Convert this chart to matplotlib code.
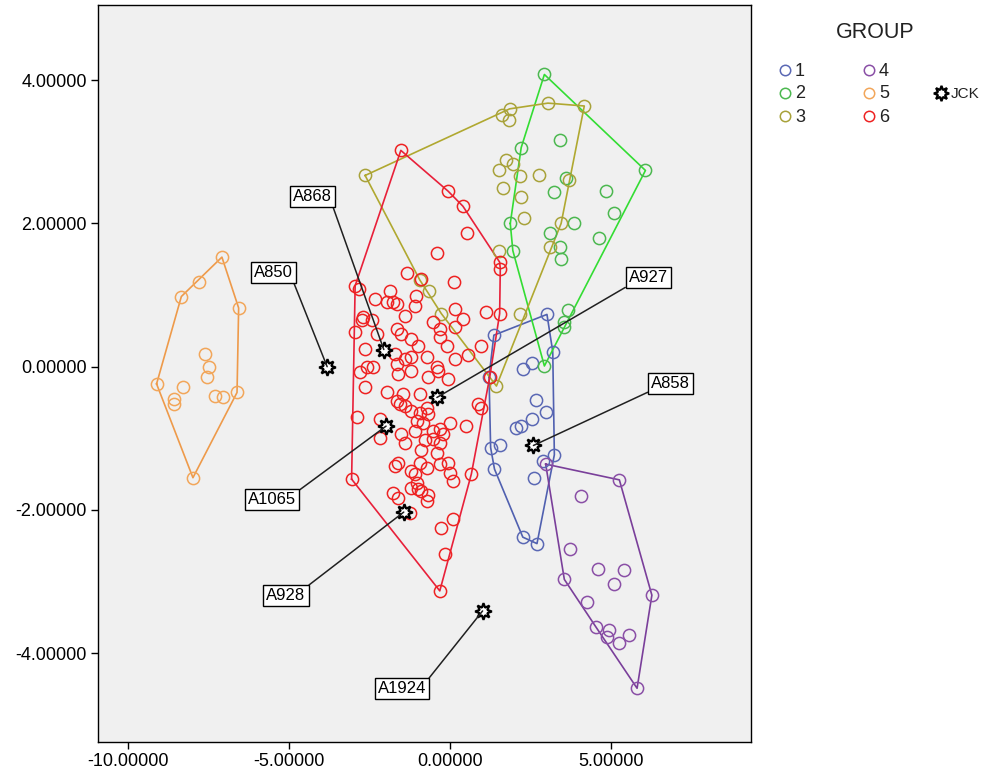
import numpy as np
import matplotlib
matplotlib.use("Agg")
import matplotlib.pyplot as plt

plt.rcParams['font.family'] = ['Liberation Sans', 'DejaVu Sans']

# ---------------- data ----------------
g1_x = [3.02, 1.37, 3.20, 2.27, 2.56, 2.69, 2.98, 2.56, 2.22, 2.05, 1.27, 1.57, 1.39, 3.25, 2.63, 2.89, 2.27, 2.71, 1.22]
g1_y = [0.73, 0.44, 0.21, -0.03, 0.05, -0.47, -0.63, -0.73, -0.83, -0.85, -1.13, -1.10, -1.43, -1.23, -1.56, -1.31, -2.38, -2.47, -0.14]

g2_x = [2.94, 2.22, 3.43, 6.08, 3.23, 4.84, 5.11, 1.88, 3.12, 3.87, 4.65, 1.96, 3.41, 3.46, 3.67, 3.56, 3.56, 2.94, 3.62]
g2_y = [4.08, 3.06, 3.17, 2.74, 2.44, 2.45, 2.14, 2.00, 1.86, 2.00, 1.80, 1.62, 1.67, 1.51, 0.79, 0.55, 0.62, 0.01, 2.64]

g3_x = [1.86, 1.62, 1.84, 3.05, 4.18, 1.74, 1.53, 1.98, 2.19, 2.77, 1.65, 2.22, 3.72, 2.30, 3.46, 3.12, 1.53, 2.17, 1.45, -2.63, -0.93, -0.64, -0.26]
g3_y = [3.60, 3.51, 3.45, 3.68, 3.64, 2.88, 2.74, 2.83, 2.66, 2.67, 2.49, 2.37, 2.61, 2.07, 2.00, 1.67, 1.62, 0.74, -0.27, 2.67, 1.21, 1.05, 0.74]

g4_x = [2.98, 5.27, 4.08, 3.74, 3.56, 4.60, 5.40, 5.11, 4.27, 6.28, 4.55, 4.96, 4.88, 5.58, 5.25, 5.82]
g4_y = [-1.36, -1.58, -1.80, -2.54, -2.97, -2.82, -2.84, -3.04, -3.28, -3.19, -3.64, -3.67, -3.78, -3.74, -3.86, -4.49]

g5_x = [-7.08, -7.78, -8.34, -6.56, -7.59, -7.47, -7.54, -9.11, -8.30, -8.58, -8.58, -7.28, -7.05, -6.61, -7.98]
g5_y = [1.53, 1.18, 0.98, 0.82, 0.18, 0.00, -0.14, -0.24, -0.28, -0.45, -0.52, -0.41, -0.42, -0.36, -1.55]

g6_x = [-1.52, -0.05, 0.41, 0.54, -0.41, 1.55, 1.57, -1.34, 0.12, -2.94, -2.81, -1.86, -2.32, -1.96, -1.76,
        -1.65, -1.05, -1.08, 0.15, 1.14, 1.55, -1.39, -2.69, -0.90, 0.41, -2.74, -2.43, -0.52, -1.65, -1.50,
        -0.31, 0.15, -2.94, -2.27, -1.19, -0.98, -0.31, -0.10, 0.98, -2.63, -1.70, -1.39, -1.19, -0.72, 0.15,
        0.57, -1.65, -0.41, -0.36, -2.58, -2.38, -1.19, -2.79, -0.05, -0.67, -1.60, -2.63, -1.96, -1.45, -0.93,
        1.24, -1.55, -1.39, -1.65, -1.19, -0.93, -0.67, -0.72, 0.88, 0.98, -2.89, -2.17, -1.03, -0.83, 0.00,
        0.52, -1.50, -1.39, -1.08, -0.52, -0.31, -0.21, -2.17, -0.77, -0.52, -0.31, -0.88, -0.41, -1.60, -1.70,
        -0.93, -0.72, -0.31, -0.05, -1.19, -1.08, 0.00, 0.67, 0.10, -3.05, -1.03, -1.19, -0.98, -0.88, -0.67,
        -1.76, -1.60, -0.72, -1.24, 0.10, -0.26, -0.15, -0.31]
g6_y = [3.02, 2.45, 2.24, 1.86, 1.59, 1.46, 1.37, 1.31, 1.18, 1.13, 1.09, 1.06, 0.95, 0.90, 0.90,
        0.88, 0.99, 0.85, 0.81, 0.76, 0.74, 0.71, 0.69, 1.23, 0.67, 0.65, 0.65, 0.62, 0.53, 0.46,
        0.53, 0.55, 0.48, 0.46, 0.39, 0.29, 0.41, 0.29, 0.29, 0.25, 0.18, 0.11, 0.13, 0.13, 0.11,
        0.17, 0.04, -0.01, -0.06, -0.01, -0.01, -0.06, -0.08, -0.17, -0.15, -0.10, -0.29, -0.36, -0.38, -0.38,
        -0.15, -0.52, -0.55, -0.48, -0.62, -0.64, -0.66, -0.57, -0.52, -0.57, -0.70, -0.73, -0.76, -0.78, -0.78,
        -0.83, -0.94, -1.06, -0.90, -0.90, -0.87, -0.94, -0.99, -1.03, -1.01, -1.06, -1.17, -1.20, -1.34, -1.38,
        -1.34, -1.41, -1.36, -1.34, -1.45, -1.50, -1.48, -1.50, -1.59, -1.57, -1.62, -1.69, -1.71, -1.73, -1.79,
        -1.76, -1.83, -1.87, -2.04, -2.12, -2.25, -2.61, -3.13]

jck_names = ["A850", "A868", "A927", "A858", "A1065", "A928", "A1924"]
jck_x = [-3.81, -2.05, -0.40, 2.60, -1.98, -1.43, 1.02]
jck_y = [0.00, 0.24, -0.43, -1.10, -0.83, -2.03, -3.41]

group_labels = ["1", "2", "3", "4", "5", "6"]
x_ticks = [-10, -5, 0, 5]
y_ticks = [-4, -2, 0, 2, 4]

# ---------------- styling ----------------
marker_colors = ['#5A68B4', '#4CB850', '#A8A23A', '#8A4FA6', '#F2A65A', '#EE2222']
hull_colors = ['#5060B0', '#33DD33', '#B0A830', '#7A3F9A', '#EE9A4A', '#E8203A']

label_pos = {"A850": (-5.49, 1.32), "A868": (-4.26, 2.37), "A927": (6.17, 1.24),
             "A858": (6.86, -0.23), "A1065": (-5.52, -1.86), "A928": (-5.09, -3.19),
             "A1924": (-1.48, -4.50)}
label_rel = {"A850": (1, 0), "A868": (1, 0), "A927": (0, 0), "A858": (0, 0),
             "A1065": (1, 1), "A928": (1, 1), "A1924": (1, 1)}


def convex_hull(xs, ys):
    pts = sorted(set(zip(xs, ys)))
    if len(pts) < 3:
        return pts

    def cross(o, a, b):
        return (a[0] - o[0]) * (b[1] - o[1]) - (a[1] - o[1]) * (b[0] - o[0])
    lower, upper = [], []
    for p in pts:
        while len(lower) >= 2 and cross(lower[-2], lower[-1], p) <= 0:
            lower.pop()
        lower.append(p)
    for p in reversed(pts):
        while len(upper) >= 2 and cross(upper[-2], upper[-1], p) <= 0:
            upper.pop()
        upper.append(p)
    return lower[:-1] + upper[:-1]


fig = plt.figure(figsize=(9.92, 7.76), dpi=100)
ax = fig.add_axes([98 / 992, 1 - 742 / 776, (751 - 98) / 992, (742 - 5) / 776])
ax.set_facecolor('#F0F0F0')

groups = [(g1_x, g1_y), (g2_x, g2_y), (g3_x, g3_y), (g4_x, g4_y), (g5_x, g5_y), (g6_x, g6_y)]
for i, (gx, gy) in enumerate(groups):
    ax.plot(gx, gy, linestyle='none', marker='o', ms=8.8, mfc='none',
            mec=marker_colors[i], mew=1.1, zorder=3)
for i, (gx, gy) in enumerate(groups):
    hull = convex_hull(gx, gy)
    hx = [p[0] for p in hull] + [hull[0][0]]
    hy = [p[1] for p in hull] + [hull[0][1]]
    ax.plot(hx, hy, color=hull_colors[i], lw=1.2, zorder=2)

ax.plot(jck_x, jck_y, linestyle='none', marker=(8, 1, 0), ms=12, mfc='white',
        mec='black', mew=1.6, zorder=5)

for name, px, py in zip(jck_names, jck_x, jck_y):
    tx, ty = label_pos[name]
    ax.annotate(name, xy=(px, py), xytext=(tx, ty), ha='center', va='center',
                fontsize=12, zorder=6,
                bbox=dict(boxstyle='square,pad=0.18', fc='white', ec='black', lw=1),
                arrowprops=dict(arrowstyle='-', color='#202020', lw=1.1,
                                relpos=label_rel[name], shrinkA=0, shrinkB=0))

ax.set_xlim(-10.93, 9.36)
ax.set_ylim(-5.24, 5.05)
ax.set_xticks(x_ticks)
ax.set_yticks(y_ticks)
ax.set_xticklabels([f"{v:.5f}" for v in x_ticks], fontsize=13)
ax.set_yticklabels([f"{v:.5f}" for v in y_ticks], fontsize=13)
ax.tick_params(direction='out', length=5, width=1, color='black', pad=3)
for s in ax.spines.values():
    s.set_color('black')
    s.set_linewidth(1)

# ---------------- legend ----------------
lax = fig.add_axes([0, 0, 1, 1], facecolor='none')
lax.set_xlim(0, 992)
lax.set_ylim(776, 0)
lax.axis('off')
lax.text(875, 32, "GROUP", ha='center', va='center', fontsize=15.5, color='#222222')
leg_pos = [(785, 70), (785, 93), (785, 116), (869, 70), (869, 93), (869, 116)]
for i, (lx, ly) in enumerate(leg_pos):
    lax.plot([lx], [ly], marker='o', ms=7.5, mfc='none', mec=marker_colors[i], mew=1.1)
    lax.text(lx + 10, ly + 1, group_labels[i], ha='left', va='center', fontsize=13, color='#222222')
lax.plot([941], [93], marker=(8, 1, 0), ms=11, mfc='white', mec='black', mew=1.6)
lax.text(951, 94, "JCK", ha='left', va='center', fontsize=11, color='#222222')

fig.savefig("out.png", dpi=100, facecolor='white')
